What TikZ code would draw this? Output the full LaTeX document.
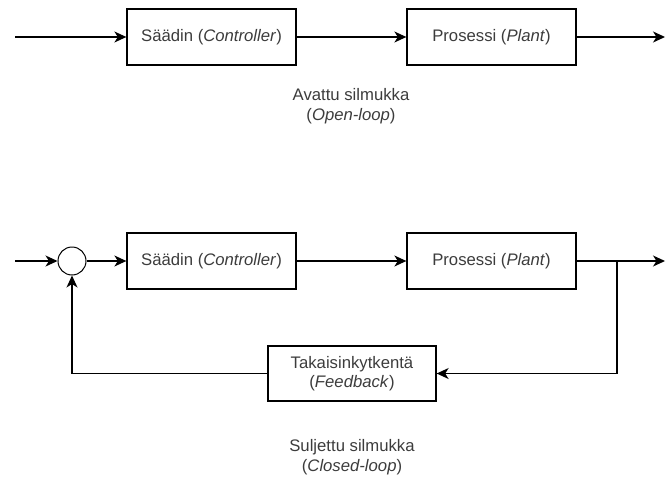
\documentclass[tikz,border=0pt]{standalone}
\usepackage{fontspec}
\setmainfont{Liberation Sans}
\usetikzlibrary{arrows.meta}
\definecolor{txt}{RGB}{60,60,60}
\tikzset{
  blk/.style={draw=black, line width=1.3pt, rectangle, minimum width=169pt, minimum height=56pt, inner sep=0pt, text=txt, font=\fontsize{16.7}{19.5}\selectfont, align=center},
  lbl/.style={text=txt, font=\fontsize{16.7}{19.5}\selectfont, align=center, inner sep=0pt},
  sumc/.style={draw=black, line width=1pt, circle, minimum size=28pt, inner sep=0pt},
  conn/.style={line width=1.3pt, -{Stealth[length=12pt,width=11pt,inset=3.5pt]}},
  wire/.style={line width=1.3pt}
}
\begin{document}
\begin{tikzpicture}[x=1pt,y=-1pt]
\useasboundingbox (0,0) rectangle (666,479);
% open loop
\coordinate (in1) at (15,37);
\node[blk] (c1) at (211.5,37) {Säädin (\textit{Controller})};
\node[blk] (p1) at (491.5,37) {Prosessi (\textit{Plant})};
\coordinate (out1) at (665,37);
\draw[conn] (in1) -- (c1.west);
\draw[conn] (c1.east) -- (p1.west);
\draw[conn] (p1.east) -- (out1);
\node[lbl] (ol) at (351,106) {Avattu silmukka\\(\textit{Open-loop})};
% closed loop
\coordinate (in2) at (15,261);
\node[sumc] (s) at (72,261) {};
\node[blk] (c2) at (211.5,261) {Säädin (\textit{Controller})};
\node[blk] (p2) at (491.5,261) {Prosessi (\textit{Plant})};
\coordinate (br) at (617,261);
\coordinate (out2) at (665,261);
\node[blk, minimum width=168pt, minimum height=55pt] (fb) at (352,373.5) {Takaisinkytkentä\\(\textit{Feedback})};
\draw[conn] (in2) -- (s.west);
\draw[conn] (s.east) -- (c2.west);
\draw[conn] (c2.east) -- (p2.west);
\draw[conn] (p2.east) -- (out2);
\draw[conn] (br) |- (fb.east);
\draw[conn] (fb.west) -| (s.south);
\node[lbl] (cl) at (352,457) {Suljettu silmukka\\(\textit{Closed-loop})};
\end{tikzpicture}
\end{document}
